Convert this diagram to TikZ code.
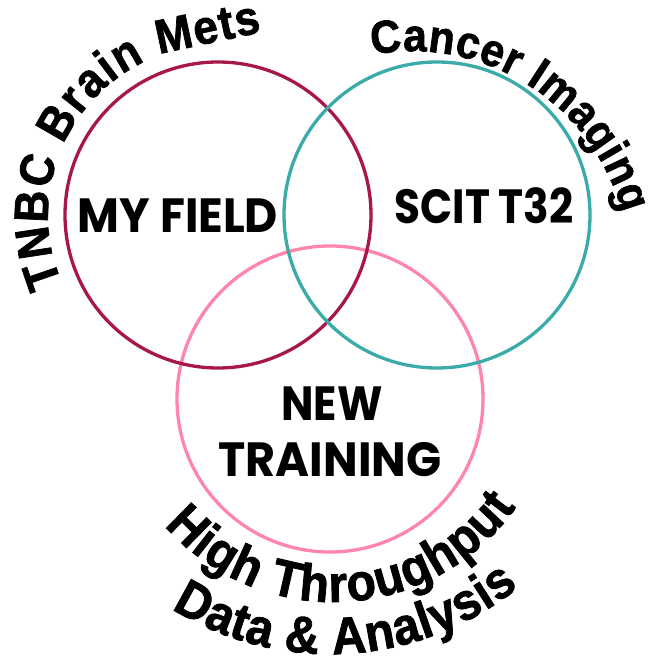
\documentclass[tikz,border=0pt]{standalone}
\usepackage{fontspec}
\setmainfont{Liberation Sans}
\newfontfamily\geofont{Poppins}
\newfontfamily\capfont{Liberation Sans Bold}[FakeStretch=0.92, FakeBold=1.5]
\usetikzlibrary{decorations.text}
\definecolor{fieldred}{RGB}{168,23,74}
\definecolor{scitteal}{RGB}{58,171,169}
\definecolor{trainpink}{RGB}{255,133,173}
\newcommand\capsize[1]{\capfont\fontsize{#1}{#1}\selectfont}
\begin{document}
\begin{tikzpicture}[x=1pt,y=1pt,
  ring/.style={line width=3.3pt},
  core/.style={font=\geofont\bfseries\fontsize{48}{56}\selectfont, inner sep=0pt},
  arched/.style 2 args={decorate,
    decoration={text along path, text align=fit to path, text={|\capsize{#1}|#2}}}]
\useasboundingbox (0,0) rectangle (649,661);

% circle centres
\coordinate (cField) at (218,446);
\coordinate (cScit) at (437,446);
\coordinate (cTrain) at (330,262);
\coordinate (metsEnd) at (262,629);

% the three rings (pink underneath, teal on top)
\draw[ring, trainpink] (cTrain) circle[radius=153];
\draw[ring, fieldred] (cField) circle[radius=153];
\draw[ring, scitteal] (cScit) circle[radius=153];

% labels inside the rings
\node[core] (field) at (178,445.5) {\scalebox{0.95}[1]{MY FIELD}};
\node[core] (scit) at (484,455) {\scalebox{0.88}[1]{SCIT T32}};
\node[core] (new) at (332,257.5) {\scalebox{0.9}[1]{NEW}};
\node[core] (training) at (330,201.5) {\scalebox{0.96}[1]{TRAINING}};

% arched captions
\path[arched={48}{TNBC Brain Mets}]
  (cField) ++(203.6:170) arc[start angle=203.6, end angle=105, radius=170] -- (metsEnd);
\path[arched={46}{Cancer Imaging}]
  (411.5,391.8) ++(100.4:218) arc[start angle=100.4, end angle=14.9, radius=218];
\path[arched={52}{High Throughput}]
  (333,283) ++(221.2:224) arc[start angle=221.2, end angle=324.8, radius=224];
\path[arched={52}{Data {\&} Analysis}]
  (330,307) ++(238.1:300) arc[start angle=238.1, end angle=309, radius=300];
\end{tikzpicture}
\end{document}
